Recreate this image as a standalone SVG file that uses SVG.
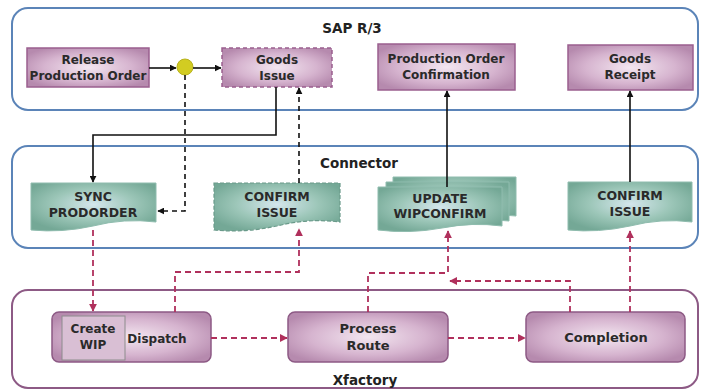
<svg xmlns="http://www.w3.org/2000/svg" width="701" height="390" viewBox="0 0 701 390">
<defs>
<radialGradient id="gp" cx="50%" cy="50%" r="60%">
<stop offset="0" stop-color="#f3e6f0"/>
<stop offset="0.6" stop-color="#d6b4cf"/>
<stop offset="1" stop-color="#b68aae"/>
</radialGradient>
<radialGradient id="gt" cx="50%" cy="45%" r="60%">
<stop offset="0" stop-color="#d4e6ec"/>
<stop offset="0.55" stop-color="#9cc6b8"/>
<stop offset="1" stop-color="#74a896"/>
</radialGradient>
<marker id="ab" viewBox="0 0 10 10" refX="9" refY="5" markerWidth="7" markerHeight="7" orient="auto" markerUnits="userSpaceOnUse">
<path d="M0,0 L10,5 L0,10 z" fill="#111"/>
</marker>
<marker id="ap" viewBox="0 0 10 10" refX="9" refY="5" markerWidth="8" markerHeight="8" orient="auto" markerUnits="userSpaceOnUse">
<path d="M0,0 L10,5 L0,10 z" fill="#b0305c"/>
</marker>
</defs>
<style>
.cont{fill:#fff;stroke:#5b84b8;stroke-width:2}
.contx{fill:#fff;stroke:#8d5a85;stroke-width:2}
.title{font-family:"DejaVu Sans","Liberation Sans",sans-serif;font-weight:bold;font-size:13.5px;fill:#222;text-anchor:middle}
.lbl{font-family:"DejaVu Sans","Liberation Sans",sans-serif;font-weight:bold;font-size:12px;fill:#2a2a2a;text-anchor:middle}
.up{font-size:12.5px}
.xl{font-size:13px}
.pbox{fill:url(#gp);stroke:#9a5f8f;stroke-width:1.5}
.pdash{fill:url(#gp);stroke:#9a5f8f;stroke-width:1.5;stroke-dasharray:4 3}
.xbox{fill:url(#gp);stroke:#8d5a85;stroke-width:1.5}
.doc{fill:url(#gt);stroke:#8fbcae;stroke-width:1}
.docd{fill:url(#gt);stroke:#6a9a8a;stroke-width:1.2;stroke-dasharray:4 2}
.solid{fill:none;stroke:#111;stroke-width:1.6}
.bdash{fill:none;stroke:#111;stroke-width:1.6;stroke-dasharray:5 4}
.pk{fill:none;stroke:#b0305c;stroke-width:1.8;stroke-dasharray:6 4}
</style>

<g id="sap">
<rect class="cont" x="12" y="8" width="686" height="102" rx="16"/>
<text class="title" x="352" y="33">SAP R/3</text>
</g>
<g id="connector">
<rect class="cont" x="12" y="146" width="686" height="102" rx="16"/>
<text class="title" x="359" y="168">Connector</text>
</g>
<g id="xfactory">
<rect class="contx" x="12" y="290" width="686" height="98" rx="16"/>
<text class="title" x="365" y="385">Xfactory</text>
</g>

<g id="release">
<rect class="pbox" x="27" y="48" width="122" height="39"/>
<text class="lbl" x="88" y="64">Release</text>
<text class="lbl" x="88" y="80">Production Order</text>
</g>
<g id="junction">
<circle cx="185" cy="67" r="8" fill="#d2cc22" stroke="#b8b21c" stroke-width="1"/>
</g>
<g id="goodsissue">
<rect class="pdash" x="222" y="48" width="110" height="39"/>
<text class="lbl" x="277" y="64">Goods</text>
<text class="lbl" x="277" y="80">Issue</text>
</g>
<g id="poconf">
<rect class="pbox" x="378" y="44" width="137" height="46"/>
<text class="lbl" x="446" y="63">Production Order</text>
<text class="lbl" x="446" y="79">Confirmation</text>
</g>
<g id="goodsreceipt">
<rect class="pbox" x="568" y="45" width="125" height="45"/>
<text class="lbl" x="630" y="63">Goods</text>
<text class="lbl" x="630" y="79">Receipt</text>
</g>

<g id="sync">
<path class="doc" d="M31,183 H156 V222 Q124,218 93,226 Q62,233 31,230 Z"/>
<text class="lbl up" x="93" y="201">SYNC</text>
<text class="lbl up" x="93" y="217">PRODORDER</text>
</g>
<g id="confirmissue1">
<path class="docd" d="M214,183 H340 V222 Q308,218 277,226 Q245,233 214,230 Z"/>
<text class="lbl up" x="277" y="201">CONFIRM</text>
<text class="lbl up" x="277" y="217">ISSUE</text>
</g>
<g id="updatewip">
<path class="doc" d="M393,177 H516 V216 Q490,213 466,219 Q430,226 393,222 Z"/>
<path class="doc" d="M386,182 H509 V221 Q483,218 459,224 Q423,231 386,227 Z"/>
<path class="doc" d="M378,187 H502 V226 Q472,222 442,228 Q410,234 378,230 Z"/>
<text class="lbl up" x="440" y="203">UPDATE</text>
<text class="lbl up" x="440" y="218">WIPCONFIRM</text>
</g>
<g id="confirmissue2">
<path class="doc" d="M568,182 H692 V222 Q661,218 630,226 Q598,233 568,230 Z"/>
<text class="lbl up" x="630" y="200">CONFIRM</text>
<text class="lbl up" x="630" y="216">ISSUE</text>
</g>

<g id="dispatch">
<rect class="xbox" x="52" y="312" width="159" height="50" rx="7"/>
<rect x="62" y="316" width="63" height="44" fill="#d9bfd4" stroke="#8c8c8c" stroke-width="1"/>
<text class="lbl" x="93" y="333">Create</text>
<text class="lbl" x="93" y="349">WIP</text>
<text class="lbl" x="157" y="343" font-size="12.5">Dispatch</text>
</g>
<g id="processroute">
<rect class="xbox" x="288" y="312" width="160" height="50" rx="7"/>
<text class="lbl xl" x="368" y="333">Process</text>
<text class="lbl xl" x="368" y="350">Route</text>
</g>
<g id="completion">
<rect class="xbox" x="526" y="312" width="159" height="50" rx="7"/>
<text class="lbl xl" x="606" y="342">Completion</text>
</g>

<g id="connectors">
<path class="solid" d="M149,68 H176" marker-end="url(#ab)"/>
<path class="solid" d="M193,68 H221" marker-end="url(#ab)"/>
<path class="solid" d="M276,87 V135 H93 V182" marker-end="url(#ab)"/>
<path class="bdash" d="M185,75 V211 H158" marker-end="url(#ab)"/>
<path class="bdash" d="M299,183 V88" marker-end="url(#ab)"/>
<path class="solid" d="M447,187 V91" marker-end="url(#ab)"/>
<path class="solid" d="M630,182 V91" marker-end="url(#ab)"/>
<path class="pk" d="M93,230 V311" marker-end="url(#ap)"/>
<path class="pk" d="M175,312 V272 H299 V229" marker-end="url(#ap)"/>
<path class="pk" d="M368,312 V273 H448 V231" marker-end="url(#ap)"/>
<path class="pk" d="M570,312 V281 H450" marker-end="url(#ap)"/>
<path class="pk" d="M630,312 V231" marker-end="url(#ap)"/>
<path class="pk" d="M211,338 H287" marker-end="url(#ap)"/>
<path class="pk" d="M448,338 H525" marker-end="url(#ap)"/>
</g>
</svg>
